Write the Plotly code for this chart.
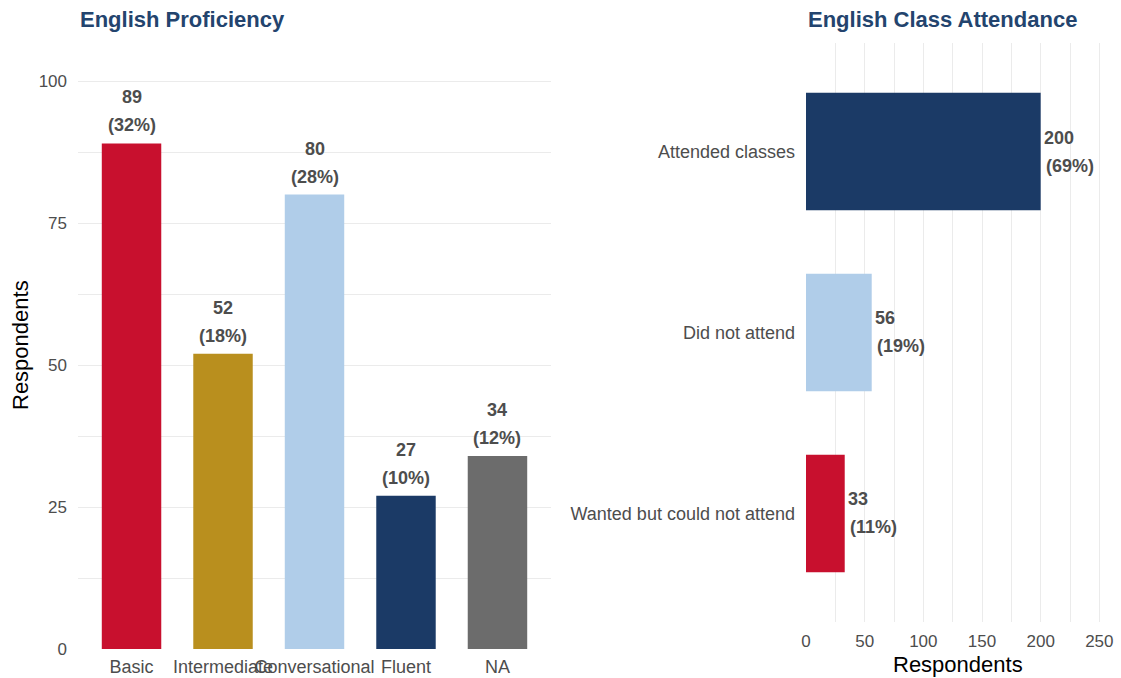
import plotly.graph_objects as go

# Left panel data
prof_cats = ["Basic", "Intermediate", "Conversational", "Fluent", "NA"]
prof_vals = [89, 52, 80, 27, 34]
prof_pct = [32, 18, 28, 10, 12]
prof_colors = ["#C8102E", "#B98F1E", "#B0CDE9", "#1B3A66", "#6C6C6C"]

# Right panel data (bottom to top)
att_cats = ["Wanted but could not attend", "Did not attend", "Attended classes"]
att_vals = [33, 56, 200]
att_pct = [11, 19, 69]
att_colors = ["#C8102E", "#B0CDE9", "#1B3A66"]

FONT = "Liberation Sans, Arial, sans-serif"
TXT = "#4D4D4D"
GRID = "#EBEBEB"
TITLE_C = "#23446E"

fig = go.Figure()
fig.add_trace(go.Bar(x=prof_cats, y=prof_vals, marker=dict(color=prof_colors, line=dict(width=0)),
                     width=0.65, xaxis="x", yaxis="y", showlegend=False, hoverinfo="x+y"))
fig.add_trace(go.Bar(x=att_vals, y=att_cats, orientation="h",
                     marker=dict(color=att_colors, line=dict(width=0)),
                     width=0.65, xaxis="x2", yaxis="y2", showlegend=False, hoverinfo="x+y"))

ann = []
lab_font = dict(family=FONT, size=18, color=TXT, weight="bold")
for c, v, p in zip(prof_cats, prof_vals, prof_pct):
    ann.append(dict(x=c, y=v, xref="x", yref="y", text=f"<b>({p}%)</b>", showarrow=False,
                    yanchor="middle", yshift=18, font=lab_font))
    ann.append(dict(x=c, y=v, xref="x", yref="y", text=f"<b>{v}</b>", showarrow=False,
                    yanchor="middle", yshift=46, font=lab_font))
for c, v, p in zip(att_cats, att_vals, att_pct):
    ann.append(dict(x=v, y=c, xref="x2", yref="y2", text=f"<b>{v}</b>", showarrow=False,
                    xanchor="left", yanchor="middle", xshift=1, yshift=14, font=lab_font))
    ann.append(dict(x=v, y=c, xref="x2", yref="y2", text=f"<b>({p}%)</b>", showarrow=False,
                    xanchor="left", yanchor="middle", xshift=3, yshift=-14, font=lab_font))

ann.append(dict(x=78/1121, y=(678-19)/678, xref="paper", yref="paper", text="<b>English Proficiency</b>",
                showarrow=False, xanchor="left", yanchor="middle",
                font=dict(family=FONT, size=22, color=TITLE_C)))
ann.append(dict(x=806/1121, y=(678-19)/678, xref="paper", yref="paper", text="<b>English Class Attendance</b>",
                showarrow=False, xanchor="left", yanchor="middle",
                font=dict(family=FONT, size=22, color=TITLE_C)))
ann.append(dict(x=20/1121, y=(678-345)/678, xref="paper", yref="paper", text="Respondents",
                showarrow=False, textangle=-90, xanchor="center", yanchor="middle",
                font=dict(family=FONT, size=22, color="#000000")))
ann.append(dict(x=958/1121, y=(678-664)/678, xref="paper", yref="paper", text="Respondents",
                showarrow=False, xanchor="center", yanchor="middle",
                font=dict(family=FONT, size=22, color="#000000")))

numfont = dict(family=FONT, size=17, color=TXT)
catfont = dict(family=FONT, size=18, color=TXT)

fig.update_layout(
    width=1121, height=678,
    margin=dict(l=0, r=0, t=0, b=0, autoexpand=False),
    paper_bgcolor="white", plot_bgcolor="white",
    font=dict(family=FONT),
    annotations=ann,
    xaxis=dict(domain=[78/1121, 551/1121], anchor="y", type="category",
               categoryorder="array", categoryarray=prof_cats,
               range=[-0.585, 4.585], showgrid=False, zeroline=False, showline=False,
               ticks="", tickangle=0, tickfont=catfont, ticklabelstandoff=5),
    yaxis=dict(domain=[29/678, (678-52.6)/678], anchor="x", range=[0, 105],
               tickvals=[0, 25, 50, 75, 100], showgrid=True, gridcolor=GRID, gridwidth=1.4,
               minor=dict(tickvals=[12.5, 37.5, 62.5, 87.5], showgrid=True, gridcolor=GRID, gridwidth=0.8),
               zeroline=False, showline=False, ticks="", tickfont=numfont, ticklabelstandoff=10),
    xaxis2=dict(domain=[806/1121, 1114/1121], anchor="y2", range=[0, 262.5],
                tickvals=[0, 50, 100, 150, 200, 250], showgrid=True, gridcolor=GRID, gridwidth=1.4,
                minor=dict(tickvals=[25, 75, 125, 175, 225], showgrid=True, gridcolor=GRID, gridwidth=0.8),
                zeroline=False, showline=False, ticks="", tickfont=numfont, ticklabelstandoff=7),
    yaxis2=dict(domain=[56/678, (678-43)/678], anchor="x2", type="category",
                categoryorder="array", categoryarray=att_cats, range=[-0.6, 2.6],
                showgrid=False, zeroline=False, showline=False, ticks="", tickfont=catfont,
                ticklabelstandoff=10),
)

fig.write_html("out.html", config={"displayModeBar": False},
               post_script="document.body.style.margin='0';document.body.style.overflow='hidden';")
